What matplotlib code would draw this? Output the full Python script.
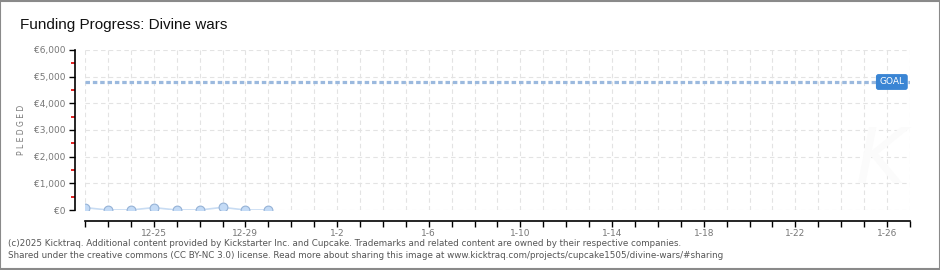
import pandas as pd
import numpy as np
import matplotlib.pyplot as plt
import matplotlib.transforms as mtransforms

plt.rcParams['font.family'] = ['DejaVu Sans']

# data
dates = ["2024-12-22", "2024-12-23", "2024-12-24", "2024-12-25", "2024-12-26",
         "2024-12-27", "2024-12-28", "2024-12-29", "2024-12-30"]
pledged = [90, 0, 0, 90, 0, 0, 100, 0, 0]
goal = 4800
start_date = "2024-12-22"
end_date = "2025-01-27"
ytick_values = [0, 1000, 2000, 3000, 4000, 5000, 6000]
ytick_labels = ["€0", "€1,000", "€2,000", "€3,000", "€4,000", "€5,000", "€6,000"]
yminor_values = [500, 1500, 2500, 3500, 4500, 5500]

t0 = pd.Timestamp(start_date)
x = [(pd.Timestamp(d) - t0).days for d in dates]
x_end = (pd.Timestamp(end_date) - t0).days
day_ticks = list(range(0, x_end + 1))
day_labels = []
for d in day_ticks:
    ts = t0 + pd.Timedelta(days=d)
    day_labels.append(f"{ts.month}-{ts.day}" if (d - 3) % 4 == 0 else "")

fig = plt.figure(figsize=(9.4, 2.7), dpi=100)
ax = fig.add_axes([85 / 940, 1 - 210 / 270, 825 / 940, 160 / 270])

# grid
for d in day_ticks:
    ax.axvline(d, color='#e3e3e3', lw=0.8, ls=(0, (4, 3)), zorder=0)
for v in ytick_values:
    ax.axhline(v, color='#e3e3e3', lw=0.8, ls=(0, (4, 3)), zorder=0)

# watermark
ax.text(0.965, 0.3, "K", transform=ax.transAxes, fontsize=55, style='italic',
        color='#fbfbfb', ha='center', va='center', zorder=0)

# goal line
ax.axhline(goal, color='#9bb9de', lw=2.3, ls=(0, (1.4, 0.9)), zorder=2)
trans = mtransforms.blended_transform_factory(ax.transAxes, ax.transData)
ax.text(0.978, goal, "GOAL", transform=trans, ha='center', va='center', fontsize=6.5,
        color='white', zorder=4,
        bbox=dict(boxstyle='round,pad=0.3,rounding_size=0.2', fc='#3a85d4', ec='#3a85d4'))

# pledged series
ax.plot(x, pledged, color='#c8dcf3', lw=1.2, zorder=3)
ax.scatter(x, pledged, s=40, c='#c4dbf6', edgecolors='#95b2d6', linewidths=0.8, zorder=4)

ax.set_xlim(0, x_end)
ax.set_ylim(0, 6000)
ax.set_xticks(day_ticks)
ax.set_xticklabels(day_labels)
ax.set_yticks(ytick_values)
ax.set_yticklabels(ytick_labels)
ax.set_yticks(yminor_values, minor=True)
ax.tick_params(axis='y', which='major', length=4, width=1, color='black', pad=3,
               labelsize=6.5, labelcolor='#777777')
ax.tick_params(axis='y', which='minor', length=3, width=1.3, color='#e01010')
ax.tick_params(axis='x', which='major', length=4, width=1, color='black', pad=1.5,
               labelsize=6.5, labelcolor='#777777')

for s in ['top', 'right']:
    ax.spines[s].set_visible(False)
ax.spines['left'].set_position(('outward', 7))
ax.spines['bottom'].set_position(('outward', 8))
ax.spines['left'].set_linewidth(1.2)
ax.spines['bottom'].set_linewidth(1.2)

ax.set_ylabel("P L E D G E D", fontsize=5.5, color='#777777', labelpad=6)

fig.text(20 / 940, 1 - 25 / 270, "Funding Progress: Divine wars", fontsize=11,
         color='#111111', va='center', ha='left', family='Liberation Sans')
fig.text(8 / 940, 1 - 243 / 270,
         "(c)2025 Kicktraq. Additional content provided by Kickstarter Inc. and Cupcake. "
         "Trademarks and related content are owned by their respective companies.",
         fontsize=6.3, color='#555555', va='center', ha='left')
fig.text(8 / 940, 1 - 256 / 270,
         "Shared under the creative commons (CC BY-NC 3.0) license. Read more about sharing "
         "this image at www.kicktraq.com/projects/cupcake1505/divine-wars/#sharing",
         fontsize=6.3, color='#555555', va='center', ha='left')

# outer border
fig.patches.append(plt.Rectangle((0.0005, 0.002), 0.999, 0.996, transform=fig.transFigure,
                                 fill=False, ec='#8a8a8a', lw=1.5))

fig.savefig("out.png", dpi=100)
